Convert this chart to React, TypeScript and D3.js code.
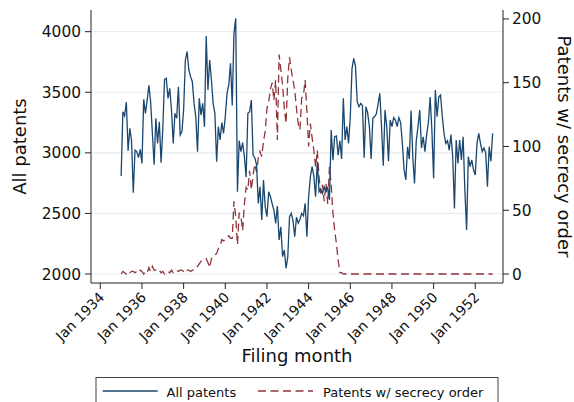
import React from "react";
import * as d3 from "d3";

// Monthly filings, January 1935 onward (one row per calendar year).
const allPatents: number[] = [
  2810, 3340, 3305, 3420, 3018, 3202, 3100, 2671, 3023, 3010, 2960, 3029, // 1935
  2913, 3441, 3326, 3436, 3557, 3420, 3161, 2902, 3285, 3078, 3257, 2919, // 1936
  3202, 3607, 3615, 3450, 3532, 3353, 3078, 3326, 3285, 3546, 3147, 3175, // 1937
  3353, 3766, 3835, 3684, 3629, 3587, 3408, 3298, 3010, 3450, 3312, 3408, // 1938
  3216, 3964, 3519, 3766, 3601, 3408, 3326, 2927, 3216, 3106, 3250, 3160, // 1939
  3300, 3491, 3560, 3739, 3390, 3986, 4110, 2679, 3100, 3010, 3084, 2968, // 1940
  2800, 3326, 3340, 3436, 2980, 2960, 2900, 2583, 2720, 2446, 2776, 2555, // 1941
  2473, 2679, 2638, 2580, 2528, 2418, 2560, 2281, 2390, 2143, 2198, 2047, // 1942
  2143, 2473, 2500, 2440, 2308, 2470, 2420, 2450, 2500, 2480, 2583, 2308, // 1943
  2638, 2803, 2886, 2810, 2638, 2927, 2679, 2700, 2665, 2720, 2680, 2720, // 1944
  2610, 3189, 2940, 3133, 3140, 2980, 3100, 2950, 3450, 3106, 3216, 3078, // 1945
  3298, 3697, 3780, 3711, 3420, 3381, 3408, 3390, 2960, 3381, 3330, 3216, // 1946
  2950, 3285, 3300, 3320, 3400, 3491, 3216, 2894, 3353, 3216, 2931, 3271, // 1947
  3216, 3290, 3270, 3216, 3290, 3250, 3078, 2858, 2776, 3050, 2950, 3349, // 1948
  2968, 2748, 3100, 3216, 3354, 3040, 3133, 3010, 3150, 3250, 3460, 3188, // 1949
  2790, 3519, 3298, 3463, 3477, 3300, 3161, 3078, 3100, 3023, 3150, 2968, // 1950
  2540, 3106, 2913, 3106, 2941, 3133, 2693, 2363, 2968, 2886, 2941, 2858, // 1951
  2817, 3080, 3161, 3078, 3010, 3040, 3000, 2721, 3051, 2930, 3161, // 1952
];

const secrecyPatents: number[] = [
  0, 2, 1, 0, 2, 1, 2, 2, 1, 2, 1, 3, // 1935
  2, 0, 2, 1, 5, 2, 6, 3, 3, 2, 3, 1, // 1936
  2, 0, 1, 2, 1, 3, 1, 2, 3, 2, 3, 3, // 1937
  2, 4, 3, 3, 2, 3, 3, 4, 6, 8, 10, 11, // 1938
  11, 12, 9, 5, 12, 13, 15, 16, 20, 22, 27, 26, // 1939
  27, 28, 30, 28, 28, 57, 45, 23, 48, 45, 34, 55, // 1940
  68, 66, 81, 66, 78, 86, 80, 91, 96, 92, 104, 112, // 1941
  130, 135, 145, 150, 136, 152, 105, 172, 160, 148, 130, 118, // 1942
  154, 170, 160, 152, 144, 130, 118, 113, 138, 140, 152, 128, // 1943
  100, 118, 107, 97, 84, 97, 76, 63, 70, 57, 71, 55, // 1944
  84, 70, 48, 34, 24, 11, 1, 1, 0, 0, 0, 0, // 1945
  0, 0, 0, 0, 0, 0, 0, 0, 0, 0, 0, 0, // 1946
  0, 0, 0, 0, 0, 0, 0, 0, 0, 0, 0, 0, // 1947
  0, 0, 0, 0, 0, 0, 0, 0, 0, 0, 0, 0, // 1948
  0, 0, 0, 0, 0, 0, 0, 0, 0, 0, 0, 0, // 1949
  0, 0, 0, 0, 0, 0, 0, 0, 0, 0, 0, 0, // 1950
  0, 0, 0, 0, 0, 0, 0, 0, 0, 0, 0, 0, // 1951
  0, 0, 0, 0, 0, 0, 0, 0, 0, 0, 0, // 1952
];

const firstYear = 1935;
const axisOriginYear = 1934;
const xTickYears = [1934, 1936, 1938, 1940, 1942, 1944, 1946, 1948, 1950, 1952];
const xTickLabels = xTickYears.map((y) => `Jan ${y}`);
const leftTicks = [2000, 2500, 3000, 3500, 4000];
const rightTicks = [0, 50, 100, 150, 200];

const seriesNames = ["All patents", "Patents w/ secrecy order"];

const W = 574;
const H = 402;
const plot = { left: 91, right: 503, top: 10, bottom: 283 };

const FONT = "'DejaVu Sans', Verdana, sans-serif";
const BLUE = "#1a476f";
const RED = "#90353b";
const GRID = "#e6eef1";
const AXIS = "#222";

// months counted from January of the axis origin year
const monthOf = (i: number) => (firstYear - axisOriginYear) * 12 + i;

export default function App() {
  const x = d3.scaleLinear().domain([-5.36, 231.97]).range([plot.left, plot.right]);
  const yLeft = d3.scaleLinear().domain([1925.7, 4179]).range([plot.bottom, plot.top]);
  const yRight = d3.scaleLinear().domain([-7.06, 207]).range([plot.bottom, plot.top]);

  const blueLine = d3
    .line<number>()
    .x((_, i) => x(monthOf(i)))
    .y((d) => yLeft(d));
  const redLine = d3
    .line<number>()
    .x((_, i) => x(monthOf(i)))
    .y((d) => yRight(d));

  const midX = (plot.left + plot.right) / 2;
  const midY = (plot.top + plot.bottom) / 2;

  return (
    <svg
      width={W}
      height={H}
      viewBox={`0 0 ${W} ${H}`}
      style={{ position: "absolute", left: 0, top: 0, background: "#fff" }}
      fontFamily={FONT}
    >
      <rect x={0} y={0} width={W} height={H} fill="#fff" />

      {/* horizontal grid at left-axis ticks */}
      {leftTicks.map((t) => (
        <line
          key={`g${t}`}
          x1={plot.left}
          x2={plot.right}
          y1={yLeft(t)}
          y2={yLeft(t)}
          stroke={GRID}
          strokeWidth={1.2}
        />
      ))}

      {/* series */}
      <path
        d={redLine(secrecyPatents) || ""}
        fill="none"
        stroke={RED}
        strokeWidth={1.3}
        strokeDasharray="8,4.5"
      />
      <path d={blueLine(allPatents) || ""} fill="none" stroke={BLUE} strokeWidth={1.3} />

      {/* axes lines */}
      <line x1={plot.left} x2={plot.left} y1={plot.top} y2={plot.bottom} stroke={AXIS} strokeWidth={1} />
      <line x1={plot.right} x2={plot.right} y1={plot.top} y2={plot.bottom} stroke={AXIS} strokeWidth={1} />
      <line x1={plot.left} x2={plot.right} y1={plot.bottom} y2={plot.bottom} stroke={AXIS} strokeWidth={1} />

      {/* left axis */}
      {leftTicks.map((t) => (
        <g key={`l${t}`}>
          <line x1={plot.left - 6} x2={plot.left} y1={yLeft(t)} y2={yLeft(t)} stroke={AXIS} />
          <text x={plot.left - 10} y={yLeft(t)} dy="0.36em" textAnchor="end" fontSize={15.4} fill="#111">
            {t}
          </text>
        </g>
      ))}

      {/* right axis */}
      {rightTicks.map((t) => (
        <g key={`r${t}`}>
          <line x1={plot.right} x2={plot.right + 6} y1={yRight(t)} y2={yRight(t)} stroke={AXIS} />
          <text x={plot.right + 9} y={yRight(t)} dy="0.36em" textAnchor="start" fontSize={15.4} fill="#111">
            {t}
          </text>
        </g>
      ))}

      {/* bottom axis */}
      {xTickYears.map((yr, k) => {
        const px = x((yr - axisOriginYear) * 12);
        return (
          <g key={`x${yr}`}>
            <line x1={px} x2={px} y1={plot.bottom} y2={plot.bottom + 6} stroke={AXIS} />
            <text
              transform={`translate(${px + 1.5},${plot.bottom + 11.5}) rotate(-45)`}
              dy="0.36em"
              textAnchor="end"
              fontSize={14}
              fill="#111"
            >
              {xTickLabels[k]}
            </text>
          </g>
        );
      })}

      {/* axis titles */}
      <text
        transform={`translate(25.5,${midY}) rotate(-90)`}
        textAnchor="middle"
        fontSize={18}
        fill="#111"
      >
        All patents
      </text>
      <text
        transform={`translate(557.8,${midY}) rotate(90)`}
        textAnchor="middle"
        fontSize={18}
        fill="#111"
      >
        Patents w/ secrecy order
      </text>
      <text x={midX} y={361.5} textAnchor="middle" fontSize={18} fill="#111">
        Filing month
      </text>

      {/* legend */}
      <rect x={96} y={377.5} width={402} height={40} fill="#fff" stroke="#444" strokeWidth={1} />
      <line x1={102.7} x2={157.7} y1={391} y2={391} stroke={BLUE} strokeWidth={1.3} />
      <text x={166.5} y={396.5} fontSize={13} fill="#111">
        {seriesNames[0]}
      </text>
      <line x1={258} x2={313} y1={391} y2={391} stroke={RED} strokeWidth={1.3} strokeDasharray="8,4.5" />
      <text x={323} y={396.5} fontSize={13} fill="#111">
        {seriesNames[1]}
      </text>
    </svg>
  );
}
